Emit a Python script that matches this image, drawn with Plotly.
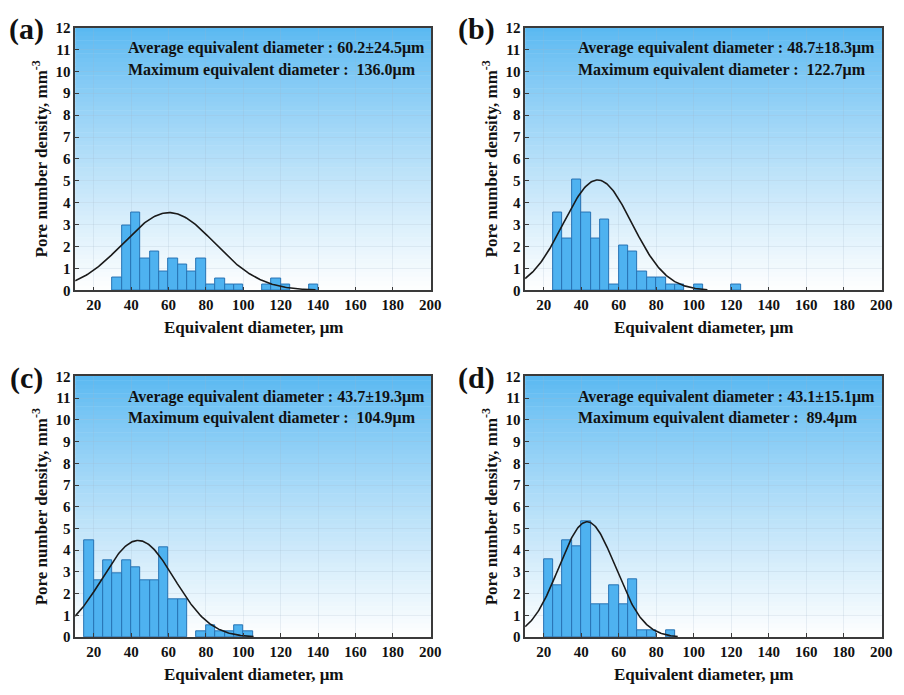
import numpy as np
import plotly.graph_objects as go

W, H = 904, 695

# ---------------- data ----------------
panel_labels = ["(a)", "(b)", "(c)", "(d)"]

a_centers = [32.5, 37.5, 42.5, 47.5, 52.5, 57.5, 62.5, 67.5, 72.5, 77.5, 82.5, 87.5, 92.5, 97.5, 112.5, 117.5, 122.5, 137.5]
a_density = [0.57, 2.97, 3.55, 1.45, 1.77, 0.87, 1.44, 1.17, 0.87, 1.44, 0.27, 0.55, 0.27, 0.27, 0.27, 0.55, 0.27, 0.27]

b_centers = [27.5, 32.5, 37.5, 42.5, 47.5, 52.5, 57.5, 62.5, 67.5, 72.5, 77.5, 82.5, 87.5, 92.5, 102.5, 122.5]
b_density = [3.55, 2.36, 5.04, 3.55, 2.36, 3.25, 0.28, 2.06, 1.76, 0.88, 0.58, 0.58, 0.28, 0.28, 0.28, 0.28]

c_centers = [17.5, 22.5, 27.5, 32.5, 37.5, 42.5, 47.5, 52.5, 57.5, 62.5, 67.5, 77.5, 82.5, 87.5, 92.5, 97.5, 102.5]
c_density = [4.44, 2.63, 3.53, 2.93, 3.53, 3.23, 2.63, 2.63, 4.14, 1.73, 1.73, 0.26, 0.54, 0.26, 0.26, 0.54, 0.26]

d_centers = [22.5, 27.5, 32.5, 37.5, 42.5, 47.5, 52.5, 57.5, 62.5, 67.5, 72.5, 77.5, 87.5]
d_density = [3.56, 2.38, 4.45, 4.16, 5.31, 1.49, 1.49, 2.38, 1.49, 2.67, 0.33, 0.33, 0.33]

mean_diam = [60.2, 48.7, 43.7, 43.1]
std_diam = [24.5, 18.3, 19.3, 15.1]
max_diam = ["136.0", "122.7", "104.9", "89.4"]
fit_peak = [3.55, 5.04, 4.45, 5.31]

x_ticks = [20, 40, 60, 80, 100, 120, 140, 160, 180, 200]
y_ticks = list(range(0, 13))

centers_all = [a_centers, b_centers, c_centers, d_centers]
density_all = [a_density, b_density, c_density, d_density]

# ---------------- layout geometry (pixels) ----------------
col_px = [(76, 436), (531, 892)]
row_px = [(20, 289), (377, 644)]

FONT = "Liberation Serif, Times New Roman, serif"
BAR_FILL = "rgb(78,178,240)"
BAR_LINE = "rgb(40,115,180)"
TOP = np.array([88, 184, 242])

fig = go.Figure()
shapes = []
annotations = []

for i in range(4):
    r, c = divmod(i, 2)
    xd = [col_px[c][0] / W, col_px[c][1] / W]
    yd = [1 - row_px[r][1] / H, 1 - row_px[r][0] / H]
    sfx = "" if i == 0 else str(i + 1)
    xa, ya = "x" + sfx, "y" + sfx

    # bars
    fig.add_trace(go.Bar(
        x=centers_all[i], y=density_all[i], width=5,
        marker=dict(color=BAR_FILL, line=dict(color=BAR_LINE, width=1)),
        xaxis=xa, yaxis=ya, showlegend=False))

    # fitted normal curve from the stated mean and SD
    mu, sd = mean_diam[i], std_diam[i]
    xs = np.linspace(10, mu + 3.2 * sd, 200)
    ys = fit_peak[i] * np.exp(-0.5 * ((xs - mu) / sd) ** 2)
    fig.add_trace(go.Scatter(
        x=xs, y=ys, mode="lines", line=dict(color="#1a1a1a", width=1.6),
        xaxis=xa, yaxis=ya, showlegend=False, hoverinfo="skip"))

    axis_common = dict(
        showline=True, mirror=True, linecolor="#3a3a3a", linewidth=1.5,
        ticks="inside", ticklen=4, tickcolor="#3a3a3a", tickwidth=1.2,
        showgrid=True, gridcolor="rgba(160,180,200,0.2)", gridwidth=1,
        zeroline=False,
        tickfont=dict(family=FONT, size=15, color="#111", weight="bold"),
    )
    fig.layout[("xaxis" + sfx)] = dict(
        axis_common, domain=xd, range=[10, 200.5], tickvals=x_ticks,
        anchor=ya)
    fig.layout[("yaxis" + sfx)] = dict(
        axis_common, domain=yd, range=[0, 12], tickvals=y_ticks,
        anchor=xa)

    # gradient background bands
    nb = 60
    for k in range(nb):
        t = (k + 0.5) / nb  # 0 at top, 1 at bottom
        f = t ** 0.85
        col = TOP + (np.array([255, 255, 255]) - TOP) * f
        shapes.append(dict(
            type="rect", xref=xa + " domain", yref=ya + " domain",
            x0=0, x1=1, y0=1 - (k + 1) / nb, y1=1 - k / nb + 0.002,
            fillcolor="rgb(%d,%d,%d)" % tuple(col.astype(int)),
            line=dict(width=0), layer="below"))

    # stats text
    tx = (col_px[c][0] + 51) / W
    annotations.append(dict(
        xref="paper", yref="paper", x=tx, xanchor="left",
        y=1 - (row_px[r][0] + 21) / H, yanchor="middle", showarrow=False,
        text="<b>Average equivalent diameter : %.1f±%.1fμm</b>" % (mu, sd),
        font=dict(family=FONT, size=16, color="#111")))
    annotations.append(dict(
        xref="paper", yref="paper", x=tx, xanchor="left",
        y=1 - (row_px[r][0] + 43) / H, yanchor="middle", showarrow=False,
        text="<b>Maximum equivalent diameter :  %sμm</b>" % max_diam[i],
        font=dict(family=FONT, size=16, color="#111")))

    # panel label
    annotations.append(dict(
        xref="paper", yref="paper", x=(col_px[c][0] - 49) / W, xanchor="center",
        y=1 - (row_px[r][0] + 2) / H, yanchor="middle", showarrow=False,
        text="<b>%s</b>" % panel_labels[i],
        font=dict(family=FONT, size=30, color="#111")))

    # axis titles
    annotations.append(dict(
        xref="paper", yref="paper", x=(col_px[c][0] + col_px[c][1]) / 2 / W,
        xanchor="center", y=1 - (row_px[r][1] + 38) / H, yanchor="middle",
        showarrow=False, text="<b>Equivalent diameter, μm</b>",
        font=dict(family=FONT, size=17, color="#111")))
    annotations.append(dict(
        xref="paper", yref="paper", x=(col_px[c][0] - 36) / W,
        xanchor="center", y=1 - (row_px[r][0] + row_px[r][1]) / 2 / H,
        yanchor="middle", textangle=-90, showarrow=False,
        text="<b>Pore number density, mm<sup>-3</sup></b>",
        font=dict(family=FONT, size=17, color="#111")))

fig.update_layout(
    width=W, height=H, margin=dict(l=0, r=0, t=0, b=0),
    paper_bgcolor="white", plot_bgcolor="white",
    shapes=shapes, annotations=annotations, bargap=0,
)

fig.write_html("out.html")
